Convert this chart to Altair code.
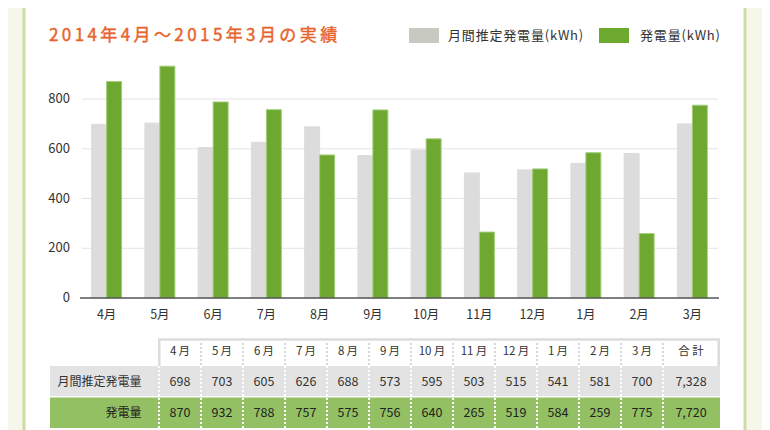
import altair as alt
import pandas as pd

# ---------------- data ----------------
months = ["4月", "5月", "6月", "7月", "8月", "9月", "10月", "11月", "12月", "1月", "2月", "3月"]
estimated = [698, 703, 605, 626, 688, 573, 595, 503, 515, 541, 581, 700]
actual = [870, 932, 788, 757, 575, 756, 640, 265, 519, 584, 259, 775]
total_estimated = 7328
total_actual = 7720
y_ticks = [0, 200, 400, 600, 800]
series_names = ["月間推定発電量(kWh)", "発電量(kWh)"]
row_labels = ["月間推定発電量", "発電量"]
total_label = "合計"
title_text = "2014年4月～2015年3月の実績"

FONT = "Noto Sans CJK JP"
W, H = 754, 422
TXT = "#333333"
THIN = "\u2009"
HAIR = "\u200a"


def spaced(s, sp):
    return sp.join(list(s))


df = pd.DataFrame({"month": months, "est": estimated, "act": actual})
df["month_hdr"] = [m[:-1] + THIN + m[-1] for m in months]
long_df = pd.DataFrame({
    "month": months * 2,
    "series": [series_names[0]] * len(months) + [series_names[1]] * len(months),
    "value": estimated + actual,
})
ticks_df = pd.DataFrame({"v": y_ticks})
totals_df = pd.DataFrame({"est": [total_estimated], "act": [total_actual], "lab": [spaced(total_label, THIN)]})
one = alt.Data(values=[{}])

yscale = alt.Scale(domain=[0, 800], range=[290, 91], nice=False, zero=False)
xbars = alt.Scale(domain=months, range=[72, 711], paddingInner=0.437, paddingOuter=0.2185)
xtable = alt.Scale(domain=months, range=[151, 655], paddingInner=0, paddingOuter=0)


def box(fill, x, x2, y, y2, **kw):
    return alt.Chart(one).mark_rect(fill=fill, **kw).encode(
        x=alt.value(x), x2=alt.value(x2), y=alt.value(y), y2=alt.value(y2))


def label(text, x, y, align="left", **kw):
    return alt.Chart(one).mark_text(align=align, baseline="middle", font=FONT, **kw).encode(
        x=alt.value(x), y=alt.value(y), text=alt.value(text))


def line(color, x, x2, y, y2, **kw):
    return alt.Chart(one).mark_rule(color=color, **kw).encode(
        x=alt.value(x), x2=alt.value(x2), y=alt.value(y), y2=alt.value(y2))


panel = box("white", 16, 737, -20, 450, stroke="#c9dda5", strokeWidth=3, cornerRadius=12)

title = label(spaced(title_text, THIN), 41, 28, fontSize=17, fontWeight="normal",
              color="#e8642c", stroke="#e8642c", strokeWidth=0.45)

leg = [
    box("#c8c9c1", 401, 431, 20, 35),
    label(spaced(series_names[0], HAIR), 440, 27.5, fontSize=13, color=TXT),
    box("#6ea92f", 591, 621, 20, 35),
    label(spaced(series_names[1], HAIR), 632, 27.5, fontSize=13, color=TXT),
]

grid = alt.Chart(ticks_df).transform_filter("datum.v > 0").mark_rule(
    color="#e4e4e4", strokeWidth=1).encode(
    y=alt.Y("v:Q", scale=yscale, axis=None), x=alt.value(74), x2=alt.value(710))

bars = alt.Chart(long_df).mark_bar(strokeWidth=1).encode(
    x=alt.X("month:N", scale=xbars, axis=None),
    xOffset=alt.XOffset("series:N", scale=alt.Scale(domain=series_names)),
    y=alt.Y("value:Q", scale=yscale, axis=None),
    color=alt.Color("series:N", scale=alt.Scale(domain=series_names, range=["#dcdcdc", "#6ea830"]), legend=None),
    stroke=alt.Stroke("series:N", scale=alt.Scale(domain=series_names, range=["#dcdcdc", "#a3cc7a"]), legend=None),
)

baseline = alt.Chart(ticks_df).transform_filter("datum.v == 0").mark_rule(
    color="#555555", strokeWidth=1.5).encode(
    y=alt.Y("v:Q", scale=yscale, axis=None), x=alt.value(72), x2=alt.value(711))

ylabels = alt.Chart(ticks_df).mark_text(
    align="right", baseline="middle", font=FONT, fontSize=13, color=TXT).encode(
    y=alt.Y("v:Q", scale=yscale, axis=None), x=alt.value(62), text="v:Q")

mlabels = alt.Chart(df).mark_text(baseline="middle", font=FONT, fontSize=12.5, color=TXT).encode(
    x=alt.X("month:N", scale=xbars, axis=None), y=alt.value(307), text="month:N")

# ---------------- table ----------------
row1 = box("#e3e3e3", 42, 712, 358, 388)
row2 = box("#93c063", 42, 712, 389.5, 420)

frame = [
    line("#dcdcdc", 150, 712, 331.5, 331.5, strokeWidth=2.5),
    line("#dcdcdc", 151.3, 151.3, 331, 358, strokeWidth=2.5),
    line("#dcdcdc", 710.7, 710.7, 331, 358, strokeWidth=2.5),
]

hdr_sep = alt.Chart(df).mark_rule(color="#d6d6d6", strokeDash=[2, 2], strokeWidth=2).encode(
    x=alt.X("month:N", scale=xtable, axis=None, bandPosition=1),
    y=alt.value(335), y2=alt.value(358))
data_sep = alt.Chart(df).mark_rule(color="white", strokeDash=[2, 2], strokeWidth=2).encode(
    x=alt.X("month:N", scale=xtable, axis=None, bandPosition=0),
    y=alt.value(358), y2=alt.value(420))
data_sep_last = line("white", 655, 655, 358, 420, strokeDash=[2, 2], strokeWidth=2)

hdr_text = alt.Chart(df).mark_text(baseline="middle", font=FONT, fontSize=11.5, color=TXT).encode(
    x=alt.X("month:N", scale=xtable, axis=None), y=alt.value(344), text="month_hdr:N")
est_text = alt.Chart(df).mark_text(baseline="middle", font=FONT, fontSize=12.5, color=TXT).encode(
    x=alt.X("month:N", scale=xtable, axis=None), y=alt.value(373.5), text="est:Q")
act_text = alt.Chart(df).mark_text(baseline="middle", font=FONT, fontSize=12.5, color="#222222").encode(
    x=alt.X("month:N", scale=xtable, axis=None), y=alt.value(405), text="act:Q")

tot_hdr = alt.Chart(totals_df).mark_text(baseline="middle", font=FONT, fontSize=11.5, color=TXT).encode(
    x=alt.value(683), y=alt.value(344), text="lab:N")
tot_est = alt.Chart(totals_df).mark_text(baseline="middle", font=FONT, fontSize=12.5, color=TXT).encode(
    x=alt.value(683), y=alt.value(373.5), text=alt.Text("est:Q", format=","))
tot_act = alt.Chart(totals_df).mark_text(baseline="middle", font=FONT, fontSize=12.5, color="#222222").encode(
    x=alt.value(683), y=alt.value(405), text=alt.Text("act:Q", format=","))

rlab1 = label(row_labels[0], 133.5, 373.5, align="right", fontSize=12, color=TXT)
rlab2 = label(row_labels[1], 133.5, 405, align="right", fontSize=12, color="#222222")

layers = [panel, title, *leg, grid, bars, baseline, ylabels, mlabels,
          row1, row2, *frame, hdr_sep, data_sep, data_sep_last,
          hdr_text, est_text, act_text, tot_hdr, tot_est, tot_act, rlab1, rlab2]

chart = alt.layer(*layers).resolve_scale(
    x="independent", y="independent", color="independent", stroke="independent"
).properties(
    width=W, height=H, padding=0, autosize="none", background="#f7f6ea"
).configure_view(stroke=None)

chart.save("out.html", embed_options={"renderer": "svg", "actions": False})
